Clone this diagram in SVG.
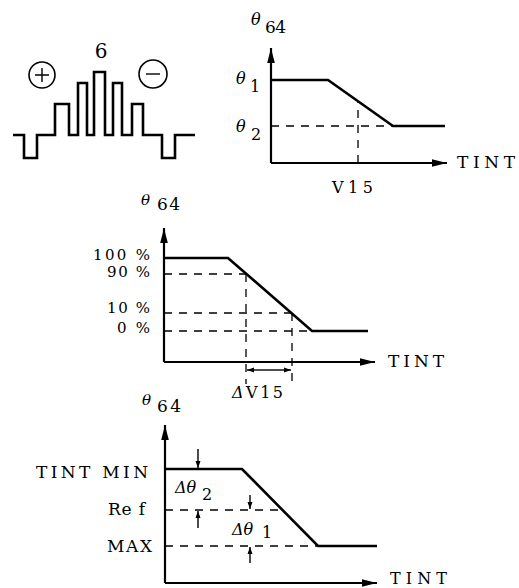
<svg xmlns="http://www.w3.org/2000/svg" width="519" height="588" viewBox="0 0 519 588">
<style>
text{font-family:"DejaVu Serif","Liberation Serif",serif;fill:#000}
.g{font-style:italic}
.ax{stroke:#000;stroke-width:2.2;fill:none}
.cv{stroke:#000;stroke-width:2.6;fill:none;stroke-linejoin:miter}
.ds{stroke:#000;stroke-width:1.3;fill:none;stroke-dasharray:8 7}
.sm{stroke:#000;stroke-width:1.4;fill:none}
</style>
<defs>
<marker id="ah" markerUnits="userSpaceOnUse" markerWidth="16" markerHeight="10" refX="15" refY="5" orient="auto">
<path d="M0,1.2 L15,5 L0,8.8 Z" fill="#000"/>
</marker>
<marker id="sa" markerUnits="userSpaceOnUse" markerWidth="8" markerHeight="6" refX="7" refY="3" orient="auto">
<path d="M0,0.5 L7,3 L0,5.5 Z" fill="#000"/>
</marker>
</defs>

<g id="waveform">
<text x="101" y="58" font-size="20" text-anchor="middle">6</text>
<circle cx="42" cy="75" r="13" fill="none" stroke="#000" stroke-width="1.6"/>
<path d="M35,75 H49 M42,68 V82" class="sm" stroke-width="2"/>
<circle cx="153" cy="74" r="14" fill="none" stroke="#000" stroke-width="1.6"/>
<path d="M146,74 H160" class="sm" stroke-width="1.8"/>
<path class="cv" d="M13,135 H24 V158 H37 V135 H55 V104 H69 V135 H78 V83 H87 V135 H94 V72 H105 V135 H113 V83 H122 V135 H132 V104 H143 V135 H162 V158 H175 V135 H195"/>
</g>

<g id="graph1">
<text class="g" x="251" y="25" font-size="16">θ</text>
<text x="265" y="33" font-size="17" textLength="21" lengthAdjust="spacing">64</text>
<text class="g" x="236" y="84" font-size="16">θ</text>
<text x="250" y="92" font-size="16">1</text>
<text class="g" x="236" y="132" font-size="16">θ</text>
<text x="251" y="140" font-size="16">2</text>
<text x="457" y="168" font-size="17" textLength="58" lengthAdjust="spacing">TINT</text>
<text x="332" y="193" font-size="16" textLength="41" lengthAdjust="spacing">V15</text>
</g>

<g id="graph2">
<text class="g" x="141" y="205" font-size="15">θ</text>
<text x="157" y="210" font-size="17" textLength="23" lengthAdjust="spacing">64</text>
<text x="93" y="260" font-size="15" textLength="57" lengthAdjust="spacing">100 %</text>
<text x="107" y="277" font-size="15" textLength="43" lengthAdjust="spacing">90 %</text>
<text x="107" y="313" font-size="15" textLength="43" lengthAdjust="spacing">10 %</text>
<text x="117" y="333" font-size="15" textLength="33" lengthAdjust="spacing">0 %</text>
<text x="388" y="367" font-size="17" textLength="56" lengthAdjust="spacing">TINT</text>
<text x="232" y="398" font-size="16" textLength="51" lengthAdjust="spacing"><tspan font-style="italic">Δ</tspan>V15</text>
</g>

<g id="graph3">
<text class="g" x="142" y="405" font-size="15">θ</text>
<text x="157" y="412" font-size="17" textLength="24" lengthAdjust="spacing">64</text>
<text x="36" y="478" font-size="17" textLength="112" lengthAdjust="spacing">TINT MIN</text>
<text x="108" y="515" font-size="17" textLength="37" lengthAdjust="spacing">Re f</text>
<text x="107" y="552" font-size="17" textLength="45" lengthAdjust="spacing">MAX</text>
<text class="g" x="175" y="493" font-size="16">Δθ</text>
<text x="202" y="500" font-size="16">2</text>
<text class="g" x="232" y="535" font-size="16">Δθ</text>
<text x="262" y="538" font-size="16">1</text>
<text x="390" y="584" font-size="16" textLength="57" lengthAdjust="spacing">TINT</text>
</g>

<g id="connectors">
<path class="ax" d="M271,163 V48" marker-end="url(#ah)"/>
<path class="ax" d="M271,163 H447" marker-end="url(#ah)"/>
<path class="cv" d="M271,80 H328 L393,126 H445"/>
<path class="ds" d="M271,126 H393"/>
<path class="ds" d="M358,163 V101"/>
<path class="ax" d="M164,362 V228" marker-end="url(#ah)"/>
<path class="ax" d="M164,362 H375" marker-end="url(#ah)"/>
<path class="cv" d="M164,258 H228 L312,331 H368"/>
<path class="ds" d="M164,274 H246"/>
<path class="ds" d="M164,313 H291"/>
<path class="ds" d="M164,331 H312"/>
<path class="ds" d="M246,274 V384"/>
<path class="ds" d="M292,313 V384"/>
<path class="sm" d="M269,370 H247" marker-end="url(#sa)"/>
<path class="sm" d="M269,370 H291" marker-end="url(#sa)"/>
<path class="ax" d="M165,583 V425" marker-end="url(#ah)"/>
<path class="ax" d="M165,583 H377" marker-end="url(#ah)"/>
<path class="cv" d="M165,469 H242 L318,546 H377"/>
<path class="ds" d="M165,510 H282"/>
<path class="ds" d="M165,546 H318"/>
<path class="sm" d="M198,449 V468" marker-end="url(#sa)"/>
<path class="sm" d="M198,528 V511" marker-end="url(#sa)"/>
<path class="sm" d="M250,495 V509" marker-end="url(#sa)"/>
<path class="sm" d="M250,563 V547" marker-end="url(#sa)"/>
</g>
</svg>
